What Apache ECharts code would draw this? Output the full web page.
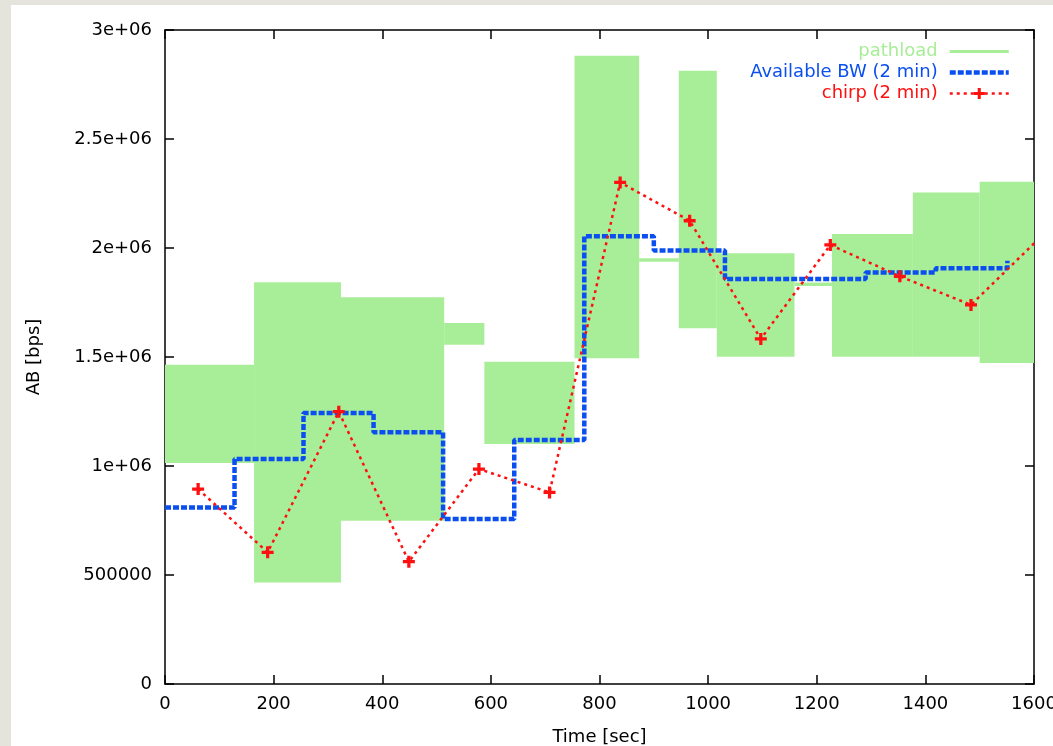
<!DOCTYPE html>
<html>
<head>
<meta charset="utf-8">
<script src="https://cdn.jsdelivr.net/npm/echarts@6/dist/echarts.min.js"></script>
<style>
  html, body { margin: 0; padding: 0; background: #e5e4dc; }
  #chart { position: absolute; left: 11px; top: 5px; width: 1042px; height: 741px; background: #fff; }
</style>
</head>
<body>
<div id="chart"></div>
<script>
// pathload ranges: [start, end] in sec, [low, high] in bps
var pathloadStart = [0, 164, 324, 514, 588, 754, 873, 946, 1016, 1159, 1228, 1377, 1500];
var pathloadEnd   = [164, 324, 514, 588, 754, 873, 946, 1016, 1159, 1228, 1377, 1500, 1600];
var pathloadLow   = [1014000, 466000, 749000, 1556000, 1101000, 1494000, 1937000, 1632000, 1501000, 1826000, 1501000, 1501000, 1472000];
var pathloadHigh  = [1465000, 1843000, 1774000, 1656000, 1478000, 2882000, 1953000, 2813000, 1976000, 1842000, 2064000, 2255000, 2304000];

// available bandwidth (2 min), step changes
var bwTime  = [0, 128, 255, 384, 512, 643, 772, 900, 1031, 1290, 1419, 1551];
var bwValue = [810000, 1032000, 1243000, 1155000, 757000, 1119000, 2054000, 1988000, 1858000, 1888000, 1907000, 1942000];

// chirp (2 min)
var chirpTime  = [61, 189, 320, 449, 578, 708, 838, 966, 1097, 1225, 1353, 1484, 1612];
var chirpValue = [894000, 604000, 1249000, 561000, 986000, 879000, 2301000, 2125000, 1583000, 2014000, 1870000, 1739000, 2050000];

var yTickLabels = ['0', '500000', '1e+06', '1.5e+06', '2e+06', '2.5e+06', '3e+06'];

var green = '#a8ed98';
var blue = '#0b4ff0';
var red = '#ff1010';
var font = 'DejaVu Sans';
var fontSize = 18;

var boxes = pathloadStart.map(function (s, i) {
  return [s, pathloadEnd[i], pathloadLow[i], pathloadHigh[i]];
});
var bwData = bwTime.map(function (t, i) { return [t, bwValue[i]]; });
var chirpData = chirpTime.map(function (t, i) { return [t, chirpValue[i]]; });

var chart = echarts.init(document.getElementById('chart'));

var axisLine = { show: true, onZero: false, lineStyle: { color: '#000', width: 1.5 } };
var axisTick = { inside: true, length: 9, lineStyle: { color: '#000', width: 1.5 } };

chart.setOption({
  animation: false,
  backgroundColor: '#fff',
  grid: { left: 154, top: 25, right: 19, bottom: 62, outerBoundsMode: 'none' },
  legend: {
    orient: 'vertical',
    right: 42,
    top: 36,
    padding: 0,
    align: 'right',
    itemWidth: 59,
    itemHeight: 14,
    itemGap: 0,
    textStyle: { fontFamily: font, fontSize: fontSize, padding: [0, 7, 0, 0], lineHeight: 21 },
    data: [
      { name: 'pathload', textStyle: { color: green }, itemStyle: { opacity: 0 },
        lineStyle: { color: green, width: 3, type: 'solid' } },
      { name: 'Available BW (2 min)', textStyle: { color: blue }, itemStyle: { opacity: 0 },
        lineStyle: { color: blue, width: 4.5, type: [6, 2] } },
      { name: 'chirp (2 min)', textStyle: { color: red },
        lineStyle: { color: red, width: 2.5, type: [3, 4] } }
    ]
  },
  xAxis: [{
    type: 'value',
    min: 0,
    max: 1600,
    interval: 200,
    name: 'Time [sec]',
    nameLocation: 'middle',
    nameGap: 44,
    nameTextStyle: { fontFamily: font, fontSize: fontSize, color: '#000' },
    axisLine: axisLine,
    axisTick: axisTick,
    axisLabel: {
      fontFamily: font, fontSize: fontSize, color: '#000', margin: 11,
      formatter: function (v) { return String(v); }
    },
    splitLine: { show: false }
  }, {
    type: 'value',
    position: 'top',
    min: 0,
    max: 1600,
    interval: 200,
    axisLine: axisLine,
    axisTick: axisTick,
    axisLabel: { show: false },
    splitLine: { show: false }
  }],
  yAxis: [{
    type: 'value',
    min: 0,
    max: 3000000,
    interval: 500000,
    name: 'AB [bps]',
    nameLocation: 'middle',
    nameGap: 122,
    nameTextStyle: { fontFamily: font, fontSize: fontSize, color: '#000' },
    axisLine: axisLine,
    axisTick: axisTick,
    axisLabel: {
      fontFamily: font, fontSize: fontSize, color: '#000', margin: 13,
      formatter: function (v) { return yTickLabels[Math.round(v / 500000)]; }
    },
    splitLine: { show: false }
  }, {
    type: 'value',
    position: 'right',
    min: 0,
    max: 3000000,
    interval: 500000,
    axisLine: axisLine,
    axisTick: axisTick,
    axisLabel: { show: false },
    splitLine: { show: false }
  }],
  series: [{
    // legend entry only
    name: 'pathload',
    type: 'line',
    data: [],
    symbol: 'none',
    itemStyle: { color: green },
    lineStyle: { color: green, width: 3 }
  }, {
    name: 'pathload ranges',
    type: 'custom',
    data: boxes,
    encode: { x: [0, 1], y: [2, 3] },
    clip: true,
    z: 1,
    renderItem: function (params, api) {
      var p0 = api.coord([api.value(0), api.value(3)]);
      var p1 = api.coord([api.value(1), api.value(2)]);
      return {
        type: 'rect',
        shape: { x: p0[0], y: p0[1], width: p1[0] - p0[0], height: p1[1] - p0[1] },
        style: { fill: green }
      };
    }
  }, {
    name: 'Available BW (2 min)',
    type: 'line',
    step: 'end',
    data: bwData,
    symbol: 'none',
    z: 3,
    itemStyle: { color: blue },
    lineStyle: { color: blue, width: 4.5, type: [6, 2] }
  }, {
    name: 'chirp (2 min)',
    type: 'line',
    data: chirpData,
    clip: true,
    symbol: 'path://M4,0 H7 V4 H11 V7 H7 V11 H4 V7 H0 V4 H4 Z',
    symbolSize: 12,
    z: 4,
    itemStyle: { color: red },
    lineStyle: { color: red, width: 2.5, type: [3, 4] }
  }]
});
</script>
</body>
</html>
